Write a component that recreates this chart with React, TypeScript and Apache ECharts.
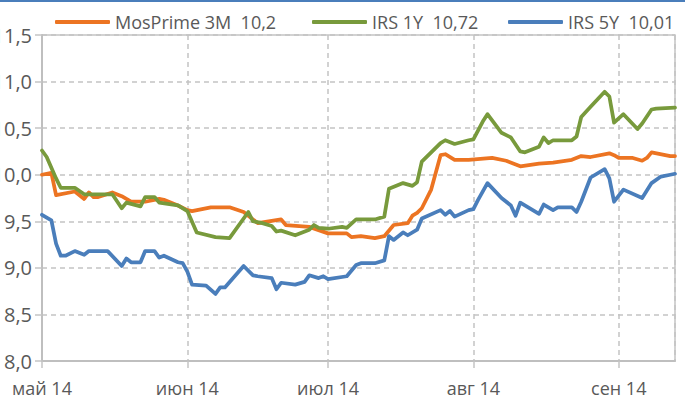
import React, { useEffect, useRef } from "react";
import * as echarts from "echarts";

const monthNames = ["янв", "фев", "мар", "апр", "май", "июн", "июл", "авг", "сен", "окт", "ноя", "дек"];

const seriesNames = ["MosPrime 3M  10,2", "IRS 1Y  10,72", "IRS 5Y  10,01"];
const seriesColors = ["#EC7422", "#789A3C", "#4A7EBB"];

const axisMin = "2014-05-01";
const axisMax = "2014-09-13";
const yMin = 8;
const yMax = 11.5;
const yStep = 0.5;

const mosDates = [
  "2014-05-01", "2014-05-03", "2014-05-04", "2014-05-08", "2014-05-10", "2014-05-11", "2014-05-12", "2014-05-13",
  "2014-05-16", "2014-05-18", "2014-05-20", "2014-05-23", "2014-05-26", "2014-05-27", "2014-05-30", "2014-06-01",
  "2014-06-02", "2014-06-06", "2014-06-10", "2014-06-13", "2014-06-16", "2014-06-21", "2014-06-22", "2014-06-27",
  "2014-07-01", "2014-07-05", "2014-07-06", "2014-07-08", "2014-07-11", "2014-07-13", "2014-07-15", "2014-07-18",
  "2014-07-19", "2014-07-20", "2014-07-21", "2014-07-23", "2014-07-25", "2014-07-26", "2014-07-28", "2014-07-31",
  "2014-08-05", "2014-08-08", "2014-08-11", "2014-08-15", "2014-08-18", "2014-08-22", "2014-08-24", "2014-08-26",
  "2014-08-30", "2014-08-31", "2014-09-01", "2014-09-04", "2014-09-06", "2014-09-07", "2014-09-08", "2014-09-12",
  "2014-09-13",
];
const mosValues = [
  10.0, 10.02, 9.78, 9.82, 9.74, 9.81, 9.76, 9.76,
  9.81, 9.77, 9.71, 9.71, 9.74, 9.73, 9.67, 9.62,
  9.61, 9.65, 9.65, 9.6, 9.48, 9.52, 9.46, 9.44,
  9.37, 9.37, 9.33, 9.34, 9.32, 9.34, 9.46, 9.48,
  9.56, 9.59, 9.64, 9.84, 10.21, 10.22, 10.16, 10.16,
  10.18, 10.15, 10.09, 10.12, 10.13, 10.16, 10.2, 10.19,
  10.23, 10.21, 10.18, 10.18, 10.15, 10.18, 10.24, 10.2,
  10.2,
];

const irs1Dates = [
  "2014-05-01", "2014-05-02", "2014-05-04", "2014-05-05", "2014-05-08", "2014-05-10", "2014-05-16", "2014-05-18",
  "2014-05-19", "2014-05-22", "2014-05-23", "2014-05-25", "2014-05-26", "2014-05-30", "2014-06-01", "2014-06-03",
  "2014-06-07", "2014-06-10", "2014-06-14", "2014-06-15", "2014-06-17", "2014-06-19", "2014-06-20", "2014-06-21",
  "2014-06-24", "2014-06-27", "2014-06-28", "2014-06-29", "2014-07-01", "2014-07-04", "2014-07-05", "2014-07-07",
  "2014-07-11", "2014-07-13", "2014-07-14", "2014-07-17", "2014-07-19", "2014-07-20", "2014-07-21", "2014-07-25",
  "2014-07-26", "2014-07-28", "2014-07-31", "2014-08-01", "2014-08-03", "2014-08-04", "2014-08-07", "2014-08-09",
  "2014-08-11", "2014-08-12", "2014-08-15", "2014-08-16", "2014-08-17", "2014-08-18", "2014-08-22", "2014-08-23",
  "2014-08-24", "2014-08-26", "2014-08-29", "2014-08-30", "2014-08-31", "2014-09-02", "2014-09-05", "2014-09-06",
  "2014-09-08", "2014-09-09", "2014-09-13",
];
const irs1Values = [
  10.26, 10.19, 9.96, 9.86, 9.86, 9.79, 9.79, 9.64,
  9.7, 9.66, 9.76, 9.76, 9.7, 9.67, 9.61, 9.38,
  9.33, 9.32, 9.6, 9.5, 9.48, 9.45, 9.39, 9.4,
  9.35, 9.41, 9.46, 9.43, 9.42, 9.44, 9.43, 9.52,
  9.52, 9.55, 9.85, 9.91, 9.88, 9.92, 10.14, 10.34,
  10.37, 10.33, 10.37, 10.38, 10.57, 10.65, 10.45, 10.4,
  10.25, 10.24, 10.3, 10.4, 10.34, 10.37, 10.37, 10.41,
  10.62, 10.73, 10.89, 10.84, 10.56, 10.65, 10.49, 10.55,
  10.7, 10.71, 10.72,
];

const irs5Dates = [
  "2014-05-01", "2014-05-03", "2014-05-04", "2014-05-05", "2014-05-06", "2014-05-08", "2014-05-10", "2014-05-11",
  "2014-05-15", "2014-05-18", "2014-05-19", "2014-05-20", "2014-05-22", "2014-05-23", "2014-05-25", "2014-05-26",
  "2014-05-27", "2014-05-30", "2014-05-31", "2014-06-01", "2014-06-02", "2014-06-05", "2014-06-07", "2014-06-08",
  "2014-06-09", "2014-06-13", "2014-06-15", "2014-06-16", "2014-06-19", "2014-06-20", "2014-06-21", "2014-06-24",
  "2014-06-26", "2014-06-27", "2014-06-29", "2014-06-30", "2014-07-01", "2014-07-05", "2014-07-07", "2014-07-08",
  "2014-07-11", "2014-07-13", "2014-07-14", "2014-07-15", "2014-07-17", "2014-07-18", "2014-07-20", "2014-07-21",
  "2014-07-25", "2014-07-26", "2014-07-27", "2014-07-28", "2014-07-31", "2014-08-01", "2014-08-02", "2014-08-04",
  "2014-08-07", "2014-08-09", "2014-08-10", "2014-08-11", "2014-08-15", "2014-08-16", "2014-08-18", "2014-08-19",
  "2014-08-22", "2014-08-23", "2014-08-24", "2014-08-26", "2014-08-29", "2014-08-30", "2014-08-31", "2014-09-02",
  "2014-09-06", "2014-09-08", "2014-09-10", "2014-09-12", "2014-09-13",
];
const irs5Values = [
  9.57, 9.51, 9.26, 9.13, 9.13, 9.18, 9.14, 9.18,
  9.18, 9.02, 9.1, 9.06, 9.06, 9.18, 9.18, 9.11,
  9.13, 9.06, 9.05, 8.96, 8.82, 8.81, 8.72, 8.79,
  8.79, 9.02, 8.92, 8.91, 8.89, 8.77, 8.84, 8.82,
  8.85, 8.92, 8.89, 8.91, 8.88, 8.91, 9.03, 9.05,
  9.05, 9.08, 9.34, 9.3, 9.38, 9.35, 9.41, 9.53,
  9.62, 9.57, 9.61, 9.55, 9.62, 9.63, 9.73, 9.91,
  9.75, 9.67, 9.56, 9.7, 9.58, 9.68, 9.62, 9.65,
  9.65, 9.6, 9.71, 9.97, 10.06, 9.96, 9.71, 9.84,
  9.75, 9.91, 9.98, 10.0, 10.01,
];

const zip = (d: string[], v: number[]) => d.map((x, i) => [x, v[i]]);

const FONT = "Open Sans";
const GRID_COLOR = "#C4C4C4";
const AXIS_COLOR = "#BFBFBF";
const TEXT_COLOR = "#595959";

export default function App() {
  const ref = useRef<HTMLDivElement>(null);
  useEffect(() => {
    if (!ref.current) return;
    const chart = echarts.init(ref.current, undefined, { renderer: "svg" });
    const dash = [5, 4];
    const legendLefts = [50, 307, 503];
    chart.setOption({
      animation: false,
      backgroundColor: "#FFFFFF",
      textStyle: { fontFamily: FONT },
      graphic: [
        {
          type: "rect",
          left: 0,
          top: 0,
          shape: { width: 685, height: 2 },
          style: { fill: "#4A7EBB" },
          silent: true,
        },
      ],
      grid: {
        left: 42,
        right: 10,
        top: 35,
        bottom: 45,
        containLabel: false,
        outerBoundsMode: "none",
        show: true,
        borderColor: GRID_COLOR,
        borderWidth: 1.5,
        backgroundColor: "transparent",
      },
      legend: seriesNames.map((n, i) => ({
        data: [n],
        left: legendLefts[i],
        top: 8,
        icon: "roundRect",
        itemWidth: 55,
        itemHeight: 4,
        itemGap: 5,
        textStyle: { color: TEXT_COLOR, fontSize: 18, fontFamily: FONT },
        selectedMode: false,
      })),
      xAxis: {
        type: "time",
        min: axisMin,
        max: axisMax,
        splitNumber: 5,
        minInterval: 28 * 86400000,
        maxInterval: 31 * 86400000,
        axisLine: { show: true, lineStyle: { color: AXIS_COLOR, width: 2 } },
        axisTick: { show: true, length: 7, lineStyle: { color: GRID_COLOR, width: 1.5 } },
        axisLabel: {
          color: TEXT_COLOR,
          fontSize: 18,
          fontFamily: FONT,
          margin: 18,
          showMaxLabel: false,
          formatter: (v: number) => {
            const d = new Date(v);
            if (d.getDate() !== 1) return "";
            return monthNames[d.getMonth()] + " " + String(d.getFullYear()).slice(2);
          },
        },
        splitLine: { show: true, lineStyle: { color: GRID_COLOR, width: 1.5, type: dash } },
      },
      yAxis: {
        type: "value",
        min: yMin,
        max: yMax,
        interval: yStep,
        axisLine: { show: true, lineStyle: { color: AXIS_COLOR, width: 2 } },
        axisTick: { show: true, length: 7, lineStyle: { color: GRID_COLOR, width: 1.5 } },
        axisLabel: {
          color: TEXT_COLOR,
          fontSize: 20,
          fontFamily: FONT,
          margin: 10,
          formatter: (v: number) => v.toFixed(1).replace(".", ","),
        },
        splitLine: { show: true, lineStyle: { color: GRID_COLOR, width: 1.5, type: dash } },
      },
      series: [
        { data: zip(mosDates, mosValues) },
        { data: zip(irs1Dates, irs1Values) },
        { data: zip(irs5Dates, irs5Values) },
      ].map((s, i) => ({
        name: seriesNames[i],
        type: "line",
        data: s.data,
        showSymbol: false,
        symbol: "none",
        smooth: false,
        color: seriesColors[i],
        lineStyle: { color: seriesColors[i], width: 3.75, join: "round", cap: "round" },
        z: 2 + i,
      })),
    });
    return () => chart.dispose();
  }, []);
  return (
    <div
      ref={ref}
      style={{ position: "fixed", left: 0, top: 0, width: 685, height: 406, overflow: "hidden" }}
    />
  );
}
